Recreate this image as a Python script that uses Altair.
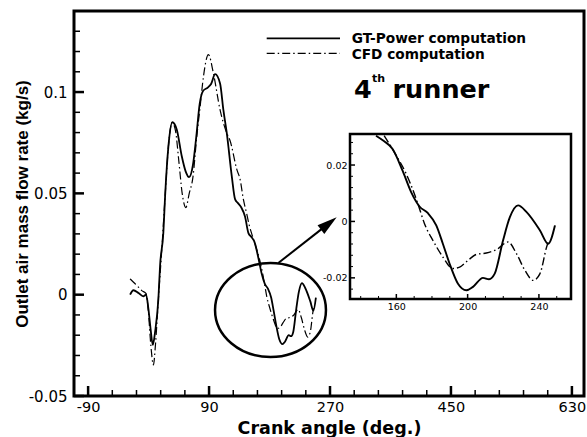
import altair as alt
import pandas as pd

# ---------------- data ----------------
gt_angle = [-27.5, -22.6, -15.0, -8.0, -3.7, -0.3, 3.0, 6.3, 9.7, 14.6, 17.1, 22.0, 24.6, 29.5,
            35.4, 42.0, 49.4, 55.0, 60.3, 66.0, 71.0, 76.0, 81.0, 88.0, 93.0, 99.0, 106.4, 111.3,
            116.4, 123.8, 128.8, 133.0, 138.0, 143.6, 148.6, 153.0, 157.9, 163.5, 168.3, 173.0,
            177.6, 182.4, 186.1, 189.9, 194.5, 199.3, 203.0, 208.6, 212.0, 215.2, 219.9, 223.7,
            228.3, 233.1, 240.6, 245.2, 249.0]
gt_flow = [0.0, 0.0022, 0.0008, -0.0008, 0.0, -0.0069, -0.017, -0.0248, -0.0183, -0.002, 0.0144,
           0.0307, 0.0487, 0.0732, 0.0851, 0.0814, 0.0683, 0.061, 0.058, 0.064, 0.078, 0.094,
           0.1005, 0.1022, 0.104, 0.1088, 0.1042, 0.0912, 0.0797, 0.0585, 0.047, 0.0452, 0.043,
           0.0385, 0.0304, 0.0285, 0.0257, 0.018, 0.0104, 0.0053, 0.003, -0.0014, -0.0079, -0.015,
           -0.022, -0.0244, -0.0232, -0.020, -0.0205, -0.0185, -0.0067, 0.0015, 0.0057, 0.0033,
           -0.0032, -0.0079, -0.0014]

cfd_angle = [-27.5, -22.0, -17.5, -10.1, -3.7, -0.3, 3.3, 7.2, 10.2, 14.6, 19.7, 24.6, 29.5, 35.0,
             40.0, 45.0, 50.0, 55.4, 60.5, 66.0, 71.7, 76.7, 81.6, 89.0, 96.5, 106.4, 116.4, 121.3,
             131.3, 136.2, 141.1, 146.0, 150.0, 153.2, 158.9, 165.5, 170.1, 173.0, 175.8, 180.5,
             186.1, 191.7, 195.5, 200.2, 204.9, 210.5, 216.2, 222.7, 227.4, 232.1, 236.8, 240.6,
             244.3, 245.5]
cfd_flow = [0.0078, 0.006, 0.0046, 0.002, 0.0005, -0.0085, -0.0248, -0.0347, -0.0248, -0.002,
            0.0225, 0.0487, 0.0732, 0.085, 0.081, 0.066, 0.05, 0.043, 0.05, 0.058, 0.078, 0.0928,
            0.1075, 0.1185, 0.1092, 0.0912, 0.0797, 0.076, 0.0618, 0.0569, 0.047, 0.040, 0.034,
            0.0304, 0.0245, 0.0169, 0.0098, 0.0045, -0.0008, -0.0067, -0.0126, -0.0167, -0.0162,
            -0.0138, -0.0117, -0.0112, -0.010, -0.0073, -0.0114, -0.0173, -0.0209, -0.0185,
            -0.0091, -0.0067]

series_names = ["GT-Power computation", "CFD computation"]
runner_label = ["4", "th", "runner"]
x_title = "Crank angle (deg.)"
y_title = "Outlet air mass flow rate (kg/s)"

x_major = [-90, 90, 270, 450, 630]
x_minor = [-54, -18, 18, 54, 126, 162, 198, 234, 306, 342, 378, 414, 486, 522, 558, 594]
y_major = [-0.05, 0, 0.05, 0.1]
y_minor = [-0.04, -0.03, -0.02, -0.01, 0.01, 0.02, 0.03, 0.04, 0.06, 0.07, 0.08, 0.09,
           0.11, 0.12, 0.13]
ix_major = [160, 200, 240]
ix_minor = [140, 150, 170, 180, 190, 210, 220, 230, 250]
iy_major = [-0.02, 0, 0.02]
iy_minor = [-0.024, -0.016, -0.012, -0.008, -0.004, 0.004, 0.008, 0.012, 0.016, 0.024, 0.028]

# ---------------- layout ----------------
W, H = 510, 385
X_DOM = [-111, 648]
Y_DOM = [-0.05, 0.14]
IX_DOM = [134, 258]
IY_DOM = [-0.0275, 0.031]
IX_RANGE = [276, 497]
IY_RANGE = [288, 123]

FONT = "DejaVu Sans"
MINUS = "\u2212"
LABEL_EXPR = f"replace(format(datum.value, '~g'), '{MINUS}', '-')"

gt = pd.DataFrame({"angle": gt_angle, "flow": gt_flow})
cfd = pd.DataFrame({"angle": cfd_angle, "flow": cfd_flow})
one = pd.DataFrame({"k": [0]})

xs = alt.Scale(domain=X_DOM, nice=False, zero=False)
ys = alt.Scale(domain=Y_DOM, nice=False, zero=False)
ixs = alt.Scale(domain=IX_DOM, range=IX_RANGE, nice=False, zero=False)
iys = alt.Scale(domain=IY_DOM, range=IY_RANGE, nice=False, zero=False)

DASH = [8, 3, 1.5, 3]

main_x_axis = alt.Axis(orient="bottom", values=x_major, ticks=False, tickSize=0, domain=False,
                       grid=False, labelFont=FONT, labelFontSize=14.5, labelColor="black",
                       labelPadding=4, labelFlush=False, labelExpr=LABEL_EXPR,
                       title=x_title, titleFont=FONT, titleFontSize=17.5, titleFontWeight="bold",
                       titleColor="black", titleY=37.5, titleBaseline="alphabetic")
main_y_axis = alt.Axis(orient="left", values=y_major, ticks=False, tickSize=0, domain=False,
                       grid=False, labelFont=FONT, labelFontSize=15, labelColor="black",
                       labelPadding=7, labelExpr=LABEL_EXPR,
                       title=y_title, titleFont="Liberation Sans", titleFontSize=17,
                       titleFontWeight="bold", titleColor="black", titleX=-47,
                       titleBaseline="alphabetic")
inset_x_axis = alt.Axis(orient="bottom", offset=-97, values=ix_major, ticks=False, tickSize=0,
                        domain=False, grid=False, labelFont=FONT, labelFontSize=9.5,
                        labelColor="black", labelPadding=2, labelFlush=False, title=None)
inset_y_axis = alt.Axis(orient="left", offset=-276, values=iy_major, ticks=False, tickSize=0,
                        domain=False, grid=False, labelFont=FONT, labelFontSize=9.5,
                        labelColor="black", labelPadding=3, labelExpr=LABEL_EXPR, title=None)


def xticks(vals, length, width, scale, xaxis, yaxis, ybottom):
    return alt.Chart(pd.DataFrame({"v": vals})).mark_rule(
        color="black", strokeWidth=width, y2Offset=-length).encode(
        x=alt.X("v:Q", scale=scale, axis=xaxis),
        y=alt.YDatum(ybottom, axis=yaxis),
        y2=alt.Y2Datum(ybottom),
    )


def yticks(vals, length, width, scale, xaxis, yaxis, xleft):
    return alt.Chart(pd.DataFrame({"v": vals})).mark_rule(
        color="black", strokeWidth=width, x2Offset=length).encode(
        y=alt.Y("v:Q", scale=scale, axis=yaxis),
        x=alt.XDatum(xleft, axis=xaxis),
        x2=alt.X2Datum(xleft),
    )


# ---------------- main plot ----------------
main_gt = alt.Chart(gt).mark_line(color="black", strokeWidth=1.8, interpolate="monotone").encode(
    x=alt.X("angle:Q", scale=xs, axis=main_x_axis),
    y=alt.Y("flow:Q", scale=ys, axis=main_y_axis),
)
main_cfd = alt.Chart(cfd).mark_line(color="black", strokeWidth=1.2, strokeDash=DASH,
                                    interpolate="monotone").encode(
    x=alt.X("angle:Q", scale=xs, axis=main_x_axis),
    y=alt.Y("flow:Q", scale=ys, axis=main_y_axis),
)

main_ticks = [
    xticks(x_major, 10, 2.5, xs, main_x_axis, main_y_axis, Y_DOM[0]),
    xticks(x_minor, 6, 1.5, xs, main_x_axis, main_y_axis, Y_DOM[0]),
    yticks(y_major, 10, 2.5, ys, main_x_axis, main_y_axis, X_DOM[0]),
    yticks(y_minor, 6, 1.5, ys, main_x_axis, main_y_axis, X_DOM[0]),
]

# legend (manual)
leg_gt_line = alt.Chart(one).mark_rule(color="black", strokeWidth=1.8).encode(
    x=alt.value(192.7), x2=alt.value(266), y=alt.value(27.3))
leg_cfd_line = alt.Chart(one).mark_rule(color="black", strokeWidth=1.2, strokeDash=DASH).encode(
    x=alt.value(192.7), x2=alt.value(266), y=alt.value(42.3))
leg_gt_text = alt.Chart(one).mark_text(
    text=series_names[0], align="left", baseline="alphabetic", font=FONT, fontWeight="bold",
    fontSize=13.7, color="black").encode(x=alt.value(277.7), y=alt.value(31.7))
leg_cfd_text = alt.Chart(one).mark_text(
    text=series_names[1], align="left", baseline="alphabetic", font=FONT, fontWeight="bold",
    fontSize=13.7, color="black").encode(x=alt.value(277.7), y=alt.value(48.3))

run4 = alt.Chart(one).mark_text(
    text=runner_label[0], align="left", baseline="alphabetic", font=FONT, fontWeight="bold",
    fontSize=25.5, color="black").encode(x=alt.value(280), y=alt.value(86.7))
run_th = alt.Chart(one).mark_text(
    text=runner_label[1], align="left", baseline="alphabetic", font=FONT, fontWeight="bold",
    fontSize=11, color="black").encode(x=alt.value(298), y=alt.value(70.7))
run_name = alt.Chart(one).mark_text(
    text=runner_label[2], align="left", baseline="alphabetic", font=FONT, fontWeight="bold",
    fontSize=25.5, color="black").encode(x=alt.value(318.5), y=alt.value(86.7))

ELLIPSE = ("M1.18,0 C1.18,0.5523 0.6517,1 0,1 C-0.6517,1 -1.18,0.5523 -1.18,0 "
           "C-1.18,-0.5523 -0.6517,-1 0,-1 C0.6517,-1 1.18,-0.5523 1.18,0 Z")
ellipse = alt.Chart(one).mark_point(shape=ELLIPSE, size=8836, filled=False, stroke="black",
                                    strokeWidth=2.5, opacity=1).encode(
    x=alt.value(196.5), y=alt.value(299))

arrow_line = alt.Chart(one).mark_rule(color="black", strokeWidth=2).encode(
    x=alt.value(204.3), y=alt.value(252), x2=alt.value(248.5), y2=alt.value(217.4))
ARROW_HEAD = "M0,-1 L0.55,1 L-0.55,1 Z"
arrow_head = alt.Chart(one).mark_point(shape=ARROW_HEAD, size=400, angle=52, filled=True,
                                       color="black", opacity=1).encode(
    x=alt.value(254.8), y=alt.value(212.5))

main_group = alt.layer(main_gt, main_cfd, *main_ticks, leg_gt_line, leg_cfd_line, leg_gt_text,
                       leg_cfd_text, run4, run_th, run_name, ellipse, arrow_line, arrow_head)

# ---------------- inset ----------------
inset_frame = alt.Chart(one).mark_rect(fill="white", stroke="black", strokeWidth=2.5).encode(
    x=alt.XDatum(IX_DOM[0], scale=ixs, axis=inset_x_axis),
    x2=alt.X2Datum(IX_DOM[1]),
    y=alt.YDatum(IY_DOM[0], scale=iys, axis=inset_y_axis),
    y2=alt.Y2Datum(IY_DOM[1]),
)

in_filter = (alt.datum.angle >= IX_DOM[0]) & (alt.datum.flow <= IY_DOM[1])

inset_gt = alt.Chart(gt).transform_filter(in_filter).mark_line(
    color="black", strokeWidth=1.9, interpolate="monotone").encode(
    x=alt.X("angle:Q", scale=ixs, axis=inset_x_axis),
    y=alt.Y("flow:Q", scale=iys, axis=inset_y_axis),
)
inset_cfd = alt.Chart(cfd).transform_filter(in_filter).mark_line(
    color="black", strokeWidth=1.4, strokeDash=DASH, interpolate="monotone").encode(
    x=alt.X("angle:Q", scale=ixs, axis=inset_x_axis),
    y=alt.Y("flow:Q", scale=iys, axis=inset_y_axis),
)

inset_ticks = [
    xticks(ix_major, 5, 1.5, ixs, inset_x_axis, inset_y_axis, IY_DOM[0]),
    xticks(ix_minor, 3, 1, ixs, inset_x_axis, inset_y_axis, IY_DOM[0]),
    yticks(iy_major, 5, 1.5, iys, inset_x_axis, inset_y_axis, IX_DOM[0]),
    yticks(iy_minor, 3, 1, iys, inset_x_axis, inset_y_axis, IX_DOM[0]),
]

inset_group = alt.layer(inset_frame, *inset_ticks, inset_gt, inset_cfd)

chart = alt.layer(main_group, inset_group).resolve_scale(
    x="independent", y="independent"
).properties(
    width=W, height=H, autosize="none",
    padding={"left": 74, "top": 11, "right": 3, "bottom": 41},
    background="white",
).configure_view(stroke="black", strokeWidth=3).configure_axis(grid=False)

chart.save("out.html", embed_options={"renderer": "svg", "actions": False})
